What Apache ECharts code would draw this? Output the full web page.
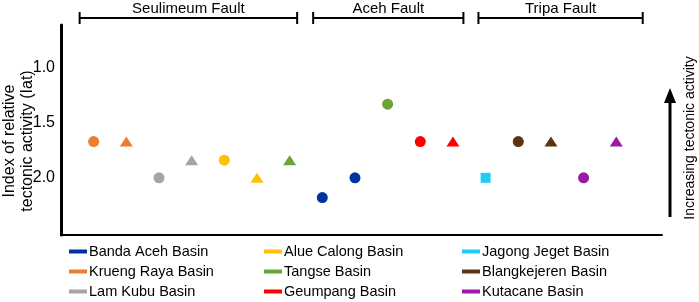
<!DOCTYPE html>
<html>
<head>
<meta charset="utf-8">
<script src="https://cdn.jsdelivr.net/npm/echarts@6/dist/echarts.min.js"></script>
<style>
  html, body { margin: 0; padding: 0; background: #fff; }
  #chart { width: 699px; height: 302px; }
</style>
</head>
<body>
<div id="chart"></div>
<script>
  // basins, in legend order (column by column)
  const basins = ['Banda Aceh Basin', 'Krueng Raya Basin', 'Lam Kubu Basin',
    'Alue Calong Basin', 'Tangse Basin', 'Geumpang Basin',
    'Jagong Jeget Basin', 'Blangkejeren Basin', 'Kutacane Basin']
  const basinColors = ['#0033a0', '#ed7d31', '#a5a5a5', '#ffc000', '#6aa434', '#ff0000', '#1ecdf5', '#5c3510', '#9c1aa6']

  // one entry per plotted site, left to right
  const siteBasin = ['Krueng Raya Basin', 'Krueng Raya Basin', 'Lam Kubu Basin', 'Lam Kubu Basin',
    'Alue Calong Basin', 'Alue Calong Basin', 'Tangse Basin', 'Banda Aceh Basin', 'Banda Aceh Basin',
    'Tangse Basin', 'Geumpang Basin', 'Geumpang Basin', 'Jagong Jeget Basin',
    'Blangkejeren Basin', 'Blangkejeren Basin', 'Kutacane Basin', 'Kutacane Basin']
  const siteIat = [1.67, 1.67, 2.0, 1.84, 1.84, 2.0, 1.84, 2.18, 2.0, 1.33, 1.67, 1.67, 2.0, 1.67, 1.67, 2.0, 1.67]
  const siteShape = ['circle', 'triangle', 'circle', 'triangle', 'circle', 'triangle', 'triangle', 'circle', 'circle',
    'circle', 'circle', 'triangle', 'rect', 'circle', 'triangle', 'circle', 'triangle']

  const yTicks = [1.0, 1.5, 2.0]

  // fault segments along the x axis (site units)
  const faultNames = ['Seulimeum Fault', 'Aceh Fault', 'Tripa Fault']
  const faultStart = [0.57, 7.72, 12.78]
  const faultEnd = [7.23, 12.32, 17.81]

  const font = '"Liberation Sans", Arial, Helvetica, sans-serif'
  const chart = echarts.init(document.getElementById('chart'))

  const symbolSize = shape => shape === 'triangle' ? [13, 10] : (shape === 'rect' ? 10 : 11)

  const basinSeries = basins.map((name, i) => ({
    name: name,
    type: 'scatter',
    itemStyle: { color: basinColors[i], opacity: 1 },
    data: siteIat.map((v, k) => ({ k, v }))
      .filter(d => siteBasin[d.k] === name)
      .map(d => ({
        value: [d.k + 1, d.v],
        symbol: siteShape[d.k],
        symbolSize: symbolSize(siteShape[d.k])
      }))
  }))

  const faultSeries = {
    type: 'custom',
    clip: false,
    silent: true,
    encode: { x: [0, 1] },
    data: faultNames.map((n, i) => [faultStart[i], faultEnd[i], n]),
    renderItem (params, api) {
      const x0 = api.coord([api.value(0), 1])[0]
      const x1 = api.coord([api.value(1), 1])[0]
      const y = params.coordSys.y - 7
      const st = { stroke: '#000', lineWidth: 2 }
      return {
        type: 'group',
        children: [
          { type: 'line', shape: { x1: x0, y1: y, x2: x1, y2: y }, style: st },
          { type: 'line', shape: { x1: x0, y1: y - 6, x2: x0, y2: y + 6 }, style: st },
          { type: 'line', shape: { x1: x1, y1: y - 6, x2: x1, y2: y + 6 }, style: st },
          {
            type: 'text',
            style: {
              text: faultNames[params.dataIndex], x: (x0 + x1) / 2, y: y - 9,
              textAlign: 'center', textVerticalAlign: 'middle',
              font: '15px ' + font, fill: '#000'
            }
          }
        ]
      }
    }
  }

  const legendCol = (names, left) => ({
    orient: 'vertical',
    left: left,
    top: 244,
    height: 70,
    padding: 0,
    itemWidth: 18,
    itemHeight: 4,
    itemGap: 5,
    icon: 'rect',
    selectedMode: false,
    data: names,
    textStyle: { fontFamily: font, fontSize: 14.5, color: '#000', padding: [0, 0, 0, -3] }
  })

  chart.setOption({
    animation: false,
    textStyle: { fontFamily: font },
    grid: { left: 61, right: 37, top: 25, bottom: 67, outerBoundsMode: 'none' },
    legend: [
      legendCol(basins.slice(0, 3), 69),
      legendCol(basins.slice(3, 6), 264),
      legendCol(basins.slice(6, 9), 462)
    ],
    xAxis: {
      type: 'value',
      min: 0,
      max: 18.4,
      axisLine: { show: true, lineStyle: { color: '#000', width: 2 } },
      axisTick: { show: false },
      axisLabel: { show: false },
      splitLine: { show: false }
    },
    yAxis: {
      type: 'value',
      inverse: true,
      min: 0.61,
      max: 2.52,
      axisLine: { show: true, lineStyle: { color: '#000', width: 3 } },
      axisTick: { show: false },
      splitLine: { show: false },
      axisLabel: {
        customValues: yTicks,
        formatter: v => v.toFixed(1),
        fontFamily: font,
        fontSize: 16,
        color: '#000',
        margin: 6
      }
    },
    graphic: [
      {
        // y axis title, two lines
        type: 'text', x: 19, y: 141, rotation: Math.PI / 2,
        style: {
          text: 'Index of relative\ntectonic activity (Iat)', textAlign: 'center', textVerticalAlign: 'middle',
          font: '16px ' + font, lineHeight: 18, fill: '#000'
        }
      },
      { type: 'line', shape: { x1: 670, y1: 217, x2: 670, y2: 100 }, style: { stroke: '#000', lineWidth: 3 } },
      { type: 'polygon', shape: { points: [[664, 103], [676, 103], [670, 88]] }, style: { fill: '#000' } },
      {
        type: 'text', x: 690, y: 138, rotation: Math.PI / 2,
        style: { text: 'Increasing tectonic activity', textAlign: 'center', textVerticalAlign: 'middle', font: '14px ' + font, fill: '#000' }
      }
    ],
    series: basinSeries.concat([faultSeries])
  })
</script>
</body>
</html>
